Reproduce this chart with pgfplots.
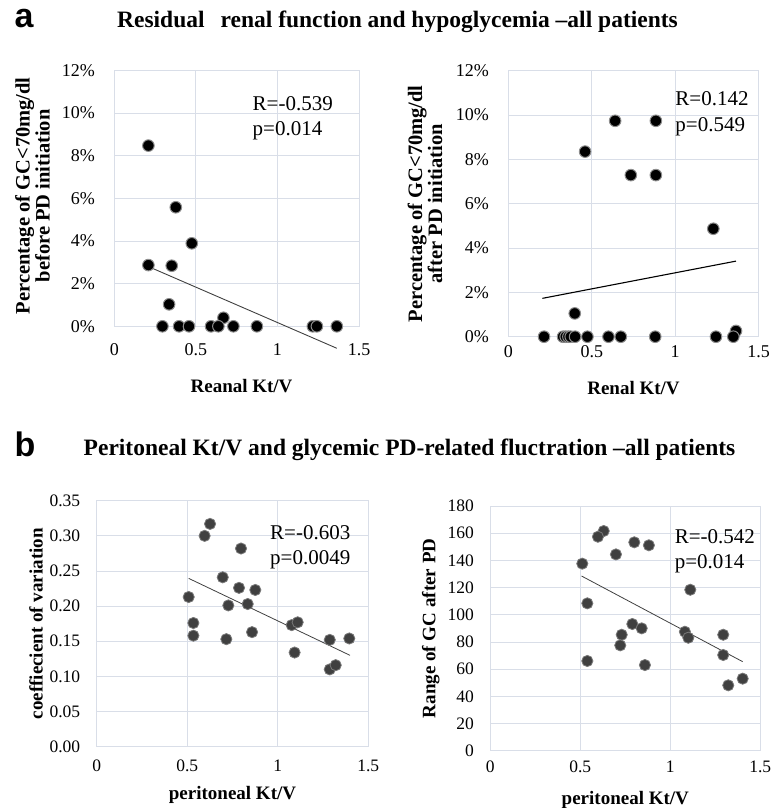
\documentclass[border=0pt]{standalone}
\usepackage{fontspec}
\setmainfont{Liberation Serif}
\newfontfamily\sansbold{Liberation Sans}
\usepackage{pgfplots}
\pgfplotsset{compat=1.18}

\definecolor{gridc}{RGB}{217,222,232}
\definecolor{dotb}{RGB}{64,64,64}
\definecolor{trend}{RGB}{64,64,64}

\pgfplotsset{
  kt/.style={
    scale only axis,
    xmin=0, xmax=1.5, xtick={0,0.5,1,1.5},
    grid=major, grid style={gridc, line width=0.8pt},
    axis line style={gridc, line width=0.8pt},
    major tick length=0pt,
    /pgf/number format/assume math mode=true,
    ticklabel style={font=\fontsize{18}{18}\selectfont},
    label style={font=\bfseries\fontsize{19}{18}\selectfont, align=center},
    clip=false,
  },
  blackdot/.style={only marks, mark=*, mark size=5.8pt,
    mark options={fill=black, draw=black!45, line width=1pt}},
  greydot/.style={only marks, mark=*, mark size=5.6pt,
    mark options={fill=dotb, draw=dotb!70, line width=0.8pt}},
}

\newcommand{\rtext}{\fontsize{21}{21}\selectfont}

\begin{document}
\begin{tikzpicture}
\useasboundingbox (0,0) rectangle (772pt,-808pt);

% panel letters and titles
\node[font=\sansbold\bfseries\fontsize{34}{34}\selectfont] at (24pt,-19pt) {a};
\node[font=\bfseries\fontsize{23.5}{23.5}\selectfont] at (397.5pt,-22pt)
  {Residual\hspace{0.68em}renal function and hypoglycemia --all patients};
\node[font=\sansbold\bfseries\fontsize{34}{34}\selectfont] at (25pt,-444pt) {b};
\node[font=\bfseries\fontsize{23.5}{23.5}\selectfont] at (409.5pt,-450pt)
  {Peritoneal Kt/V and glycemic PD-related fluctration --all patients};

% a, left
\begin{axis}[kt, at={(114.3pt,-326.3pt)}, anchor=south west,
  width=244.7pt, height=256pt,
  ymin=0, ymax=12, ytick={0,2,4,6,8,10,12},
  yticklabel={\pgfmathprintnumber{\tick}\%},
  yticklabel style={xshift=-16pt},
  xticklabel style={yshift=-14pt},
  xlabel={Reanal Kt/V},
  xlabel style={at={(axis description cs:0.52,-0.235)}, anchor=center},
  ylabel={Percentage of GC<70mg/dl\\before PD initiation},
  ylabel style={at={(axis description cs:-0.334,0.51)}, anchor=center,
    font=\bfseries\fontsize{20.5}{17.5}\selectfont},
]
\addplot[blackdot] coordinates {
  (0.209,8.47) (0.209,2.87) (0.377,5.58) (0.475,3.89) (0.352,2.84)
  (0.336,1.03) (0.669,0.40)
  (0.295,0) (0.397,0) (0.458,0) (0.593,0) (0.638,0) (0.730,0)
  (0.874,0) (1.217,0) (1.242,0) (1.364,0)
};
\addplot[no marks, color=trend, line width=0.9pt] coordinates {(0.209,2.80) (1.364,-1.03)};
\node[anchor=west, inner sep=0pt, font=\rtext] at (axis cs:0.847,10.42) {R=-0.539};
\node[anchor=west, inner sep=0pt, font=\rtext] at (axis cs:0.847,9.16) {p=0.014};
\end{axis}

% a, right
\begin{axis}[kt, at={(508.3pt,-336.7pt)}, anchor=south west,
  width=250.4pt, height=266pt,
  ymin=0, ymax=12, ytick={0,2,4,6,8,10,12},
  yticklabel={\pgfmathprintnumber{\tick}\%},
  yticklabel style={xshift=-16pt},
  xticklabel style={yshift=-5pt},
  xlabel={Renal Kt/V},
  xlabel style={at={(axis description cs:0.5,-0.193)}, anchor=center},
  ylabel={Percentage of GC<70mg/dl\\after PD initiation},
  ylabel style={at={(axis description cs:-0.333,0.5)}, anchor=center,
    font=\bfseries\fontsize{20.5}{17.5}\selectfont},
]
\addplot[blackdot] coordinates {
  (0.640,9.74) (0.884,9.74) (0.460,8.35) (0.734,7.29) (0.884,7.29)
  (1.228,4.87) (0.398,1.05) (1.364,0.26)
  (0.214,0) (0.328,0) (0.344,0) (0.360,0) (0.374,0) (0.400,0)
  (0.474,0) (0.600,0) (0.674,0) (0.880,0) (1.244,0) (1.348,0)
};
\addplot[no marks, color=black, line width=1.1pt] coordinates {(0.204,1.73) (1.364,3.41)};
\node[anchor=west, inner sep=0pt, font=\rtext] at (axis cs:1.0,10.72) {R=0.142};
\node[anchor=west, inner sep=0pt, font=\rtext] at (axis cs:1.0,9.47) {p=0.549};
\end{axis}

% b, left
\begin{axis}[kt, at={(96.7pt,-746.7pt)}, anchor=south west,
  width=271.6pt, height=246pt,
  ymin=0, ymax=0.35, ytick={0,0.05,0.10,0.15,0.20,0.25,0.30,0.35},
  yticklabel style={xshift=-13pt, /pgf/number format/.cd, fixed, fixed zerofill, precision=2},
  ticklabel style={font=\fontsize{17.5}{17.5}\selectfont},
  xticklabel style={yshift=-10pt},
  xlabel={peritoneal Kt/V},
  xlabel style={at={(axis description cs:0.5,-0.196)}, anchor=center},
  ylabel={coeffiecient of variation},
  ylabel style={at={(axis description cs:-0.223,0.5)}, anchor=center},
]
\addplot[greydot] coordinates {
  (0.626,0.317) (0.596,0.300) (0.797,0.282) (0.696,0.241) (0.786,0.226)
  (0.876,0.223) (0.508,0.213) (0.727,0.201) (0.834,0.203) (0.534,0.176)
  (0.534,0.158) (0.716,0.153) (0.858,0.163) (1.077,0.173) (1.110,0.177)
  (1.093,0.134) (1.287,0.152) (1.395,0.154) (1.287,0.110) (1.320,0.116)
};
\addplot[no marks, color=trend, line width=0.8pt] coordinates {(0.508,0.2395) (1.399,0.130)};
\node[anchor=west, inner sep=0pt, font=\rtext] at (axis cs:0.957,0.3045) {R=-0.603};
\node[anchor=west, inner sep=0pt, font=\rtext] at (axis cs:0.957,0.2665) {p=0.0049};
\end{axis}

% b, right
\begin{axis}[kt, at={(490.3pt,-750.7pt)}, anchor=south west,
  width=270pt, height=244.7pt,
  ymin=0, ymax=180, ytick={0,20,40,60,80,100,120,140,160,180},
  yticklabel style={xshift=-13pt},
  ticklabel style={font=\fontsize{17.5}{17.5}\selectfont},
  xticklabel style={yshift=-7pt},
  xlabel={peritoneal Kt/V},
  xlabel style={at={(axis description cs:0.5,-0.2)}, anchor=center},
  ylabel={Range of GC after PD},
  ylabel style={at={(axis description cs:-0.22,0.5)}, anchor=center},
]
\addplot[greydot] coordinates {
  (0.630,161.6) (0.598,157.4) (0.800,153.3) (0.881,151.1) (0.698,144.4)
  (0.511,137.6) (1.111,118.4) (0.539,108.4) (0.789,93.2) (0.841,90.0)
  (0.730,85.3) (0.722,77.5) (1.081,87.5) (1.100,83.1) (1.294,85.3)
  (1.294,70.4) (0.539,66.0) (0.859,63.0) (1.402,53.0) (1.322,48.1)
};
\addplot[no marks, color=trend, line width=0.8pt] coordinates {(0.507,128.5) (1.402,65.5)};
\node[anchor=west, inner sep=0pt, font=\rtext] at (axis cs:1.024,157.4) {R=-0.542};
\node[anchor=west, inner sep=0pt, font=\rtext] at (axis cs:1.024,137.8) {p=0.014};
\end{axis}
\end{tikzpicture}
\end{document}
